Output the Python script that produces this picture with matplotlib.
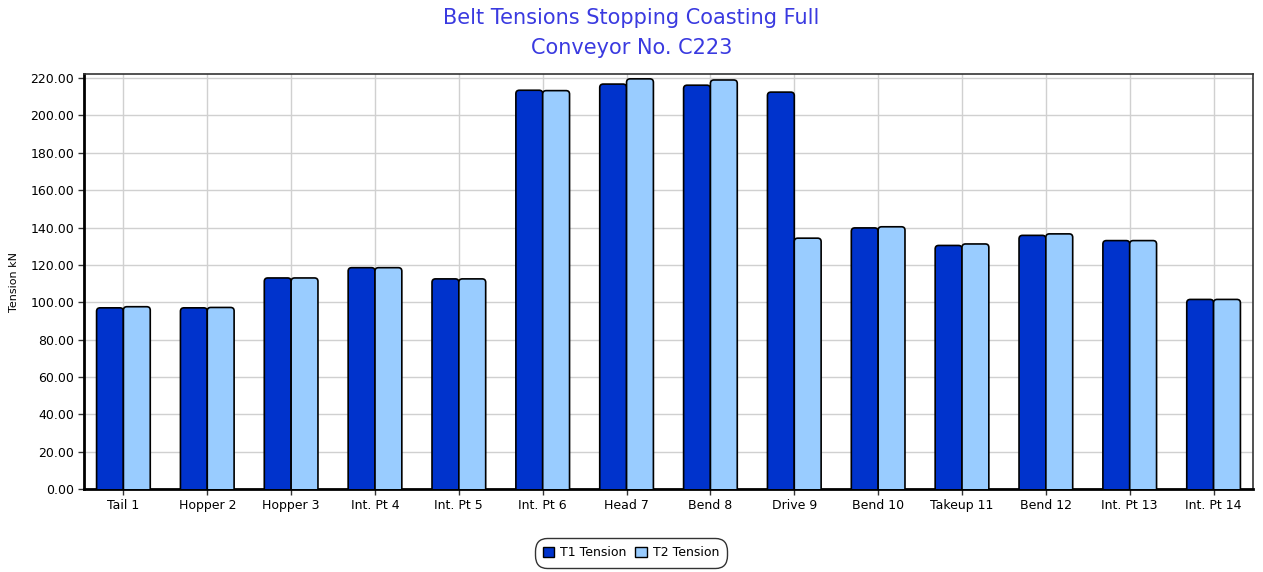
import matplotlib
matplotlib.use("Agg")
import matplotlib.pyplot as plt
import numpy as np
from matplotlib.patches import FancyBboxPatch, Patch

categories = ["Tail 1", "Hopper 2", "Hopper 3", "Int. Pt 4", "Int. Pt 5", "Int. Pt 6",
              "Head 7", "Bend 8", "Drive 9", "Bend 10", "Takeup 11", "Bend 12",
              "Int. Pt 13", "Int. Pt 14"]
t1_tension = [97.0, 97.0, 113.0, 118.5, 112.5, 213.5, 216.8, 216.2, 212.5, 139.8,
              130.4, 135.8, 133.0, 101.5]
t2_tension = [97.6, 97.2, 113.0, 118.5, 112.5, 213.3, 219.6, 219.0, 134.3, 140.4,
              131.2, 136.6, 133.0, 101.5]
yticks = [0, 20, 40, 60, 80, 100, 120, 140, 160, 180, 200, 220]
series_names = ["T1 Tension", "T2 Tension"]

title_color = "#3a3ae0"
c1 = "#0033cc"
c2 = "#99ccff"

plt.rcParams["font.family"] = ["DejaVu Sans"]
fig = plt.figure(figsize=(12.63, 5.72), dpi=100)
ax = fig.add_axes([84 / 1263, 1 - 489 / 572, (1253 - 84) / 1263, (489 - 74) / 572])

x = np.arange(len(categories))
w = 0.32
b1 = ax.bar(x - w / 2, t1_tension, w, color=c1, edgecolor="black", linewidth=1.2, zorder=3)
b2 = ax.bar(x + w / 2, t2_tension, w, color=c2, edgecolor="black", linewidth=1.2, zorder=3)

ax.set_xlim(-0.47, len(categories) - 0.53)
ax.set_ylim(0, 222.2)

# rounded-top bars: replace rectangles with rounded patches from their geometry
fig.canvas.draw()
bbox = ax.get_window_extent()
xpp = (ax.get_xlim()[1] - ax.get_xlim()[0]) / bbox.width
ypp = (ax.get_ylim()[1] - ax.get_ylim()[0]) / bbox.height
aspect = ypp / xpp
r = 3.5 * xpp
for bars in (b1, b2):
    for p in bars.patches:
        px, py, pw, ph = p.get_x(), p.get_y(), p.get_width(), p.get_height()
        fb = FancyBboxPatch((px, py - 10), pw, ph + 10,
                            boxstyle=f"round,pad=0,rounding_size={r}",
                            mutation_aspect=aspect,
                            facecolor=p.get_facecolor(), edgecolor="black",
                            linewidth=1.2, zorder=3, clip_on=True)
        ax.add_patch(fb)
        p.set_visible(False)

ax.set_xticks(x)
ax.set_xticklabels(categories, fontsize=9)
ax.set_yticks(yticks)
ax.set_yticklabels([f"{v:.2f}" for v in yticks], fontsize=9)
ax.grid(True, color="#d0d0d0", linewidth=1.0, zorder=0)
ax.set_axisbelow(True)
ax.tick_params(axis="both", length=4, width=1, color="#333333", pad=3)
ax.set_ylabel("Tension kN", fontsize=8, labelpad=8)

for s in ("left", "bottom"):
    ax.spines[s].set_linewidth(2.0)
    ax.spines[s].set_color("black")
for s in ("top", "right"):
    ax.spines[s].set_linewidth(1.2)
    ax.spines[s].set_color("#333333")

fig.text(0.5, 1 - 18 / 572, "Belt Tensions Stopping Coasting Full", ha="center", va="center",
         fontsize=15, color=title_color)
fig.text(0.5, 1 - 48 / 572, "Conveyor No. C223", ha="center", va="center",
         fontsize=15, color=title_color)

handles = [Patch(facecolor=c1, edgecolor="black", linewidth=1.0),
           Patch(facecolor=c2, edgecolor="black", linewidth=1.0)]
leg = fig.legend(handles, series_names, loc="center",
                 bbox_to_anchor=(631 / 1263, 1 - 553 / 572), ncol=2, fontsize=9,
                 frameon=True, fancybox=True, handlelength=0.9, handleheight=0.9,
                 handletextpad=0.5, columnspacing=0.7, borderpad=0.35,
                 borderaxespad=0)
leg.get_frame().set_edgecolor("black")
leg.get_frame().set_linewidth(1.0)
leg.get_frame().set_boxstyle("round,pad=0.3,rounding_size=1.0")

fig.savefig("out.png", dpi=100)
